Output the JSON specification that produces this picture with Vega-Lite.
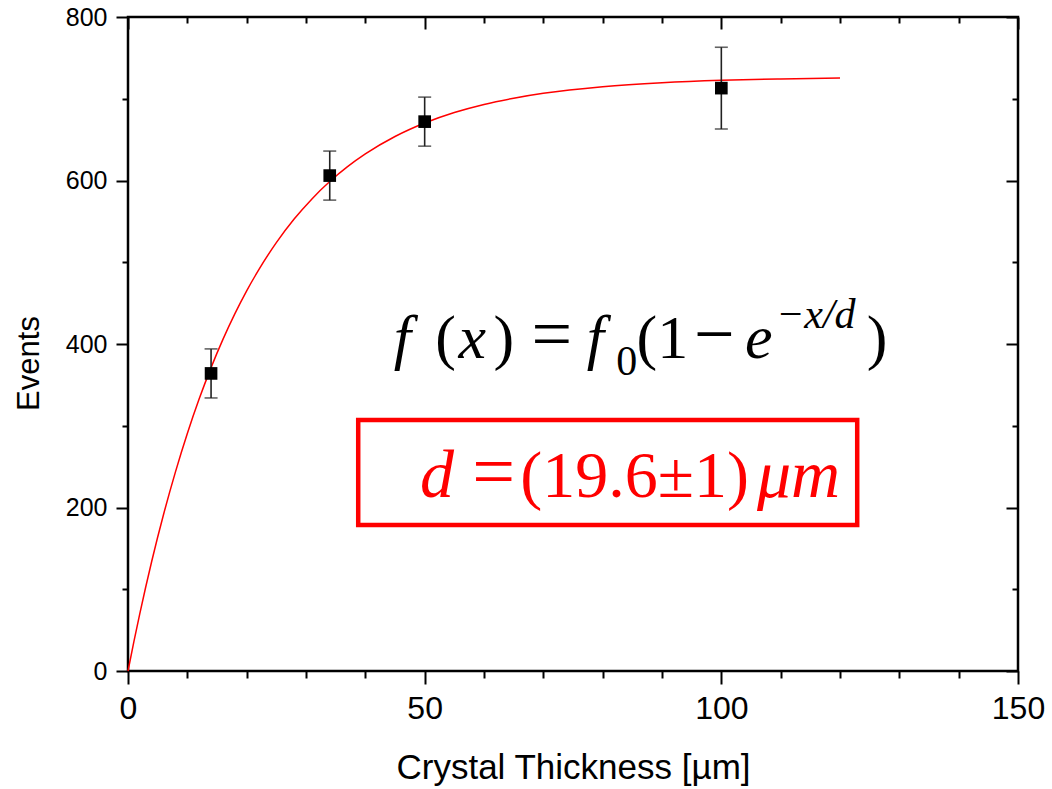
{
  "$schema": "https://vega.github.io/schema/vega-lite/v6.json",
  "width": 890,
  "height": 654,
  "autosize": "none",
  "padding": {"left": 128, "top": 17, "right": 34, "bottom": 118},
  "background": "white",
  "config": {
    "view": {"stroke": "black", "strokeWidth": 2.5},
    "axis": {
      "grid": false,
      "domain": false,
      "tickColor": "black",
      "tickWidth": 2,
      "labelColor": "black",
      "labelFont": "Liberation Sans",
      "titleFont": "Liberation Sans",
      "titleColor": "black",
      "titleFontWeight": "normal"
    }
  },
  "datasets": {
    "measured": [
      {"thickness": 14, "events": 364, "lo": 334, "hi": 394},
      {"thickness": 34, "events": 606, "lo": 576, "hi": 636},
      {"thickness": 50, "events": 672, "lo": 642, "hi": 702},
      {"thickness": 100, "events": 713, "lo": 663, "hi": 763}
    ],
    "fit": [
      {"thickness": 0, "events": 0},
      {"thickness": 1, "events": 36.2},
      {"thickness": 2, "events": 70.5},
      {"thickness": 4, "events": 134.2},
      {"thickness": 6, "events": 191.7},
      {"thickness": 8, "events": 243.6},
      {"thickness": 10, "events": 290.5},
      {"thickness": 12, "events": 332.9},
      {"thickness": 14, "events": 371.1},
      {"thickness": 16, "events": 405.6},
      {"thickness": 18, "events": 436.8},
      {"thickness": 20, "events": 465.0},
      {"thickness": 22, "events": 490.4},
      {"thickness": 25, "events": 524.0},
      {"thickness": 28, "events": 552.8},
      {"thickness": 31, "events": 577.5},
      {"thickness": 34, "events": 598.7},
      {"thickness": 37, "events": 616.9},
      {"thickness": 40, "events": 632.5},
      {"thickness": 45, "events": 653.8},
      {"thickness": 50, "events": 670.3},
      {"thickness": 55, "events": 683.1},
      {"thickness": 60, "events": 693.0},
      {"thickness": 65, "events": 700.6},
      {"thickness": 70, "events": 706.6},
      {"thickness": 80, "events": 714.7},
      {"thickness": 90, "events": 719.6},
      {"thickness": 100, "events": 722.6},
      {"thickness": 110, "events": 724.3},
      {"thickness": 120, "events": 725.4}
    ],
    "mathItalic": [
      {"t": "f", "x": 44.8, "y": 383},
      {"t": "x", "x": 55.7, "y": 383},
      {"t": "f", "x": 77.3, "y": 383},
      {"t": "e", "x": 104.0, "y": 383}
    ],
    "mathUpright": [
      {"t": "(", "x": 51.8, "y": 383},
      {"t": ")", "x": 61.6, "y": 383},
      {"t": "(1", "x": 85.7, "y": 383},
      {"t": ")", "x": 124.5, "y": 383}
    ],
    "mathOperator": [
      {"t": "=", "x": 68.0, "y": 383},
      {"t": "−", "x": 95.4, "y": 383}
    ],
    "mathSub": [{"t": "0", "x": 82.3, "y": 362}],
    "mathSup": [{"t": "−x/d", "x": 109.2, "y": 420}],
    "resultItalic": [
      {"t": "d", "x": 49.2, "y": 213},
      {"t": "μm", "x": 106.0, "y": 213}
    ],
    "resultUpright": [
      {"t": "(19.6±1)", "x": 66.1, "y": 213}
    ],
    "resultOperator": [
      {"t": "=", "x": 58.0, "y": 213}
    ],
    "resultBox": [{"x1": 38.8, "x2": 122.9, "y1": 307, "y2": 178.6}]
  },
  "resolve": {"axis": {"x": "independent", "y": "independent"}},
  "layer": [
    {
      "data": {"name": "fit"},
      "mark": {"type": "line", "color": "#ff0000", "strokeWidth": 1.5, "interpolate": "monotone"},
      "encoding": {
        "x": {
          "field": "thickness", "type": "quantitative",
          "scale": {"domain": [0, 150], "nice": false},
          "axis": {
            "orient": "bottom", "values": [0, 50, 100, 150], "tickSize": 13,
            "labelFontSize": 32, "labelPadding": 9, "labelFlush": false,
            "title": "Crystal Thickness [µm]", "titleFontSize": 35, "titlePadding": 26
          }
        },
        "y": {
          "field": "events", "type": "quantitative",
          "scale": {"domain": [0, 800], "nice": false},
          "axis": {
            "orient": "left", "values": [0, 200, 400, 600, 800], "tickSize": 12,
            "labelFontSize": 25, "labelPadding": 9, "labelFlush": false,
            "title": "Events", "titleFontSize": 31, "titlePadding": 20, "titleY": 346
          }
        }
      }
    },
    {
      "data": {"name": "measured"},
      "mark": {"type": "rule", "color": "#222222", "strokeWidth": 1.6},
      "encoding": {
        "x": {
          "field": "thickness", "type": "quantitative",
          "axis": {"orient": "bottom", "values": [10, 20, 30, 40, 60, 70, 80, 90, 110, 120, 130, 140], "tickSize": 7, "labels": false, "title": null}
        },
        "y": {
          "field": "lo", "type": "quantitative",
          "axis": {"orient": "left", "values": [100, 300, 500, 700], "tickSize": 6, "labels": false, "title": null}
        },
        "y2": {"field": "hi"}
      }
    },
    {
      "data": {"name": "measured"},
      "mark": {"type": "tick", "orient": "horizontal", "color": "#222222", "size": 13, "thickness": 1.6},
      "encoding": {
        "x": {
          "field": "thickness", "type": "quantitative",
          "axis": {"orient": "top", "values": [0, 50, 100, 150], "tickSize": -12, "labels": false, "title": null}
        },
        "y": {
          "field": "lo", "type": "quantitative",
          "axis": {"orient": "right", "values": [0, 200, 400, 600, 800], "tickSize": -12, "labels": false, "title": null}
        }
      }
    },
    {
      "data": {"name": "measured"},
      "mark": {"type": "tick", "orient": "horizontal", "color": "#222222", "size": 13, "thickness": 1.6},
      "encoding": {
        "x": {
          "field": "thickness", "type": "quantitative",
          "axis": {"orient": "top", "values": [10, 20, 30, 40, 60, 70, 80, 90, 110, 120, 130, 140], "tickSize": -6, "labels": false, "title": null}
        },
        "y": {
          "field": "hi", "type": "quantitative",
          "axis": {"orient": "right", "values": [100, 300, 500, 700], "tickSize": -6, "labels": false, "title": null}
        }
      }
    },
    {
      "data": {"name": "measured"},
      "mark": {"type": "point", "shape": "square", "filled": true, "color": "black", "opacity": 1, "size": 160},
      "encoding": {
        "x": {"field": "thickness", "type": "quantitative", "axis": null},
        "y": {"field": "events", "type": "quantitative", "axis": null}
      }
    },
    {
      "data": {"name": "resultBox"},
      "mark": {"type": "rect", "fill": null, "fillOpacity": 0, "stroke": "#ff0000", "strokeWidth": 4.5},
      "encoding": {
        "x": {"field": "x1", "type": "quantitative", "axis": null},
        "x2": {"field": "x2"},
        "y": {"field": "y1", "type": "quantitative", "axis": null},
        "y2": {"field": "y2"}
      }
    },
    {
      "data": {"name": "mathItalic"},
      "mark": {"type": "text", "align": "left", "baseline": "alphabetic", "font": "Liberation Serif", "fontStyle": "italic", "fontSize": 62, "color": "black"},
      "encoding": {
        "x": {"field": "x", "type": "quantitative", "axis": null},
        "y": {"field": "y", "type": "quantitative", "axis": null},
        "text": {"field": "t"}
      }
    },
    {
      "data": {"name": "mathUpright"},
      "mark": {"type": "text", "align": "left", "baseline": "alphabetic", "font": "Liberation Serif", "fontSize": 62, "color": "black"},
      "encoding": {
        "x": {"field": "x", "type": "quantitative", "axis": null},
        "y": {"field": "y", "type": "quantitative", "axis": null},
        "text": {"field": "t"}
      }
    },
    {
      "data": {"name": "mathOperator"},
      "mark": {"type": "text", "align": "left", "baseline": "alphabetic", "font": "Liberation Serif", "fontSize": 72, "color": "black"},
      "encoding": {
        "x": {"field": "x", "type": "quantitative", "axis": null},
        "y": {"field": "y", "type": "quantitative", "axis": null},
        "text": {"field": "t"}
      }
    },
    {
      "data": {"name": "mathSub"},
      "mark": {"type": "text", "align": "left", "baseline": "alphabetic", "font": "Liberation Serif", "fontSize": 42, "color": "black"},
      "encoding": {
        "x": {"field": "x", "type": "quantitative", "axis": null},
        "y": {"field": "y", "type": "quantitative", "axis": null},
        "text": {"field": "t"}
      }
    },
    {
      "data": {"name": "mathSup"},
      "mark": {"type": "text", "align": "left", "baseline": "alphabetic", "font": "Liberation Serif", "fontStyle": "italic", "fontSize": 42, "color": "black"},
      "encoding": {
        "x": {"field": "x", "type": "quantitative", "axis": null},
        "y": {"field": "y", "type": "quantitative", "axis": null},
        "text": {"field": "t"}
      }
    },
    {
      "data": {"name": "resultItalic"},
      "mark": {"type": "text", "align": "left", "baseline": "alphabetic", "font": "Liberation Serif", "fontStyle": "italic", "fontSize": 68, "color": "#ff0000"},
      "encoding": {
        "x": {"field": "x", "type": "quantitative", "axis": null},
        "y": {"field": "y", "type": "quantitative", "axis": null},
        "text": {"field": "t"}
      }
    },
    {
      "data": {"name": "resultUpright"},
      "mark": {"type": "text", "align": "left", "baseline": "alphabetic", "font": "Liberation Serif", "fontSize": 66, "color": "#ff0000"},
      "encoding": {
        "x": {"field": "x", "type": "quantitative", "axis": null},
        "y": {"field": "y", "type": "quantitative", "axis": null},
        "text": {"field": "t"}
      }
    },
    {
      "data": {"name": "resultOperator"},
      "mark": {"type": "text", "align": "left", "baseline": "alphabetic", "font": "Liberation Serif", "fontSize": 76, "color": "#ff0000"},
      "encoding": {
        "x": {"field": "x", "type": "quantitative", "axis": null},
        "y": {"field": "y", "type": "quantitative", "axis": null},
        "text": {"field": "t"}
      }
    }
  ]
}
